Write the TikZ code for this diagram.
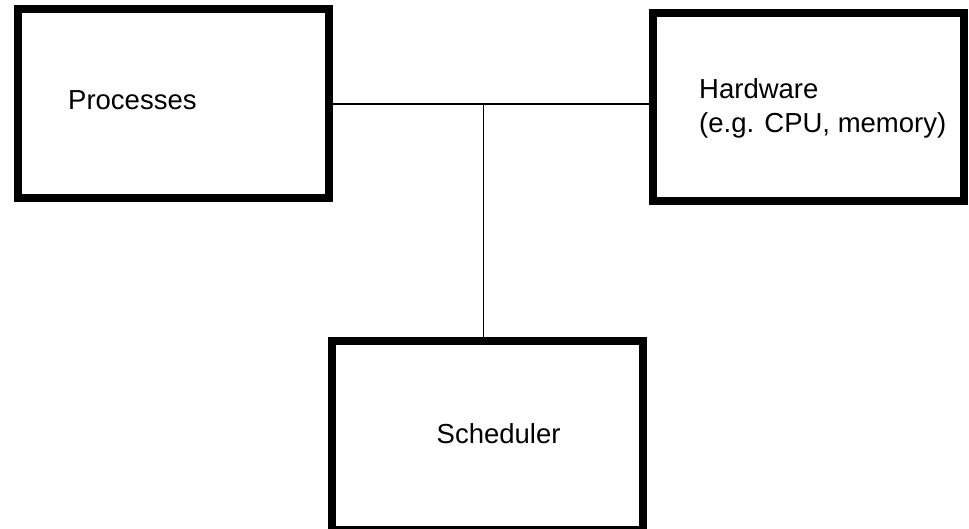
\documentclass[tikz,border=0pt]{standalone}
\usepackage{fontspec}
\setmainfont{Liberation Sans}
\begin{document}
\begin{tikzpicture}[x=1pt,y=-1pt,
  box/.style={draw=black,line width=8pt,rectangle,inner sep=0pt,fill=white},
  lbl/.style={inner sep=0pt,anchor=base west,font=\fontsize{27.5}{34.5}\selectfont},
  conn/.style={draw=black,line width=1.3pt}]
\useasboundingbox (0,0) rectangle (969,529);
\begin{scope}
\clip (0,0) rectangle (969,529);
\node[box,minimum width=311pt,minimum height=189pt] (proc) at (173.5,103.5) {};
\node[box,minimum width=311pt,minimum height=188pt] (hw) at (808.5,107) {};
\node[box,minimum width=311pt,minimum height=189pt] (sched) at (487.5,435.5) {};
\coordinate (j) at (483.3,104);
\draw[conn] (proc.east |- j) -- (j) -- (j -| hw.west);
\draw[conn] (j) -- (j |- sched.north);
\node[lbl] (tproc) at (68,110) {Processes};
\node[lbl] (thw1) at (699,98.3) {Hardware};
\node[lbl] (thw2) at (699,133) {(e.g. CPU, memory)};
\node[lbl] (tsched) at (436.5,443.3) {Scheduler};
\end{scope}
\end{tikzpicture}
\end{document}
